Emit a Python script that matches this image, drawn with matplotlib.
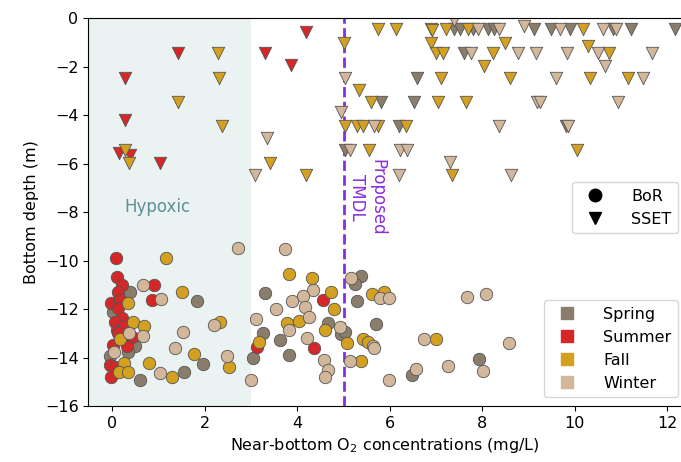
import numpy as np
import matplotlib
matplotlib.use('Agg')
import matplotlib.pyplot as plt
from matplotlib.lines import Line2D

# Season colours
seasons = ["Spring", "Summer", "Fall", "Winter"]
season_colors = {"Spring": "#8b7d6b", "Summer": "#d62728", "Fall": "#d4a020", "Winter": "#d2b79a"}

# SSET (triangles): near-bottom O2 (mg/L) and bottom depth (m)
sset_spring_o2 = [6.89, 7.38, 7.51, 7.80, 8.13, 8.26, 9.11, 9.48, 9.90, 10.83, 11.22, 12.18,
                  7.61, 6.58, 5.81, 6.53, 6.19, 9.82, 5.03]
sset_spring_depth = [-0.45, -0.45, -0.45, -0.45, -0.45, -0.45, -0.45, -0.45, -0.45, -0.45, -0.45, -0.45,
                     -1.45, -2.45, -3.45, -3.45, -4.45, -4.45, -5.45]

sset_summer_o2 = [4.19, 1.42, 3.31, 3.86, 0.28, 0.27, 0.15, 0.38, 1.03]
sset_summer_depth = [-0.55, -1.45, -1.45, -1.93, -2.45, -4.2, -5.55, -5.65, -5.96]

sset_fall_o2 = [5.02, 2.28, 2.31, 1.42, 2.38, 5.03, 0.27, 0.37, 3.41, 4.19,
                5.75, 6.14, 6.91, 7.22, 7.69, 10.18,
                6.89, 8.50, 10.29,
                7.00, 7.16, 8.24, 10.74, 8.04,
                7.11, 8.60, 10.34, 11.15, 5.34,
                5.60, 7.04, 7.65,
                5.29, 5.42, 5.74, 6.35,
                5.55, 10.05, 7.35]
sset_fall_depth = [-1.0, -1.45, -2.45, -3.45, -4.45, -4.45, -5.45, -5.96, -5.96, -6.45,
                   -0.45, -0.45, -0.5, -0.45, -0.45, -0.45,
                   -1.0, -1.0, -1.15,
                   -1.45, -1.45, -1.45, -1.45, -1.95,
                   -2.45, -2.45, -2.45, -2.45, -2.95,
                   -3.45, -3.45, -3.45,
                   -4.45, -4.45, -4.45, -4.45,
                   -5.45, -5.45, -6.45]

sset_winter_o2 = [5.04, 4.94, 3.34, 3.08, 5.14,
                  7.40, 7.90, 8.36, 8.91, 9.69, 10.61, 10.90,
                  7.76, 8.78, 9.16, 9.84, 10.50, 11.68, 10.66,
                  9.60, 11.47, 9.18, 9.24, 10.94,
                  5.67, 8.37, 9.86,
                  6.22, 6.37, 7.30, 6.21, 8.63]
sset_winter_depth = [-2.45, -3.88, -4.93, -6.45, -5.45,
                     -0.07, -0.45, -0.45, -0.33, -0.45, -0.45, -0.45,
                     -1.45, -1.45, -1.45, -1.45, -1.45, -1.45, -1.95,
                     -2.45, -2.45, -3.45, -3.45, -3.45,
                     -4.45, -4.45, -4.45,
                     -5.45, -5.45, -5.95, -6.45, -6.45]

# BoR (circles)
bor_spring_o2 = [0.38, 0.02, 0.49, 0.34, -0.05, 0.60, 1.84, 1.97, 1.55, 3.30, 3.26, 3.63, 3.05,
                 3.83, 4.66, 4.95, 5.03, 5.37, 5.25, 5.30, 5.70, 6.48, 7.93]
bor_spring_depth = [-11.28, -12.1, -13.52, -13.76, -13.94, -14.93, -11.65, -14.28, -14.58, -11.32,
                    -12.98, -13.28, -14.01, -13.9, -12.59, -13.03, -12.93, -10.62, -10.98, -11.67,
                    -12.62, -14.72, -14.07]

bor_summer_o2 = [0.08, 0.09, 0.20, 0.90, 0.13, 0.85, -0.02, 0.16, 0.13, 0.20, 0.05, 0.09, 0.42,
                 0.31, 0.02, -0.05, 0.05, -0.02, 4.56, 3.13, 4.37, 0.25, 0.12]
bor_summer_depth = [-9.9, -10.66, -11.0, -11.0, -11.28, -11.63, -11.76, -11.63, -11.97, -12.38,
                    -12.52, -12.86, -13.14, -13.52, -13.48, -14.31, -14.38, -14.79, -11.63, -13.55,
                    -13.62, -12.7, -13.0]

bor_fall_o2 = [1.17, 1.50, 3.83, 4.32, 4.74, 4.79, 3.78, 4.04, 4.61, 3.18, 0.33, 0.45, 0.69, 0.16,
               0.26, 0.14, 0.34, 0.79, 1.28, 1.77, 2.33, 2.52, 5.62, 5.88, 5.08, 5.42, 5.54, 7.00,
               5.38]
bor_fall_depth = [-9.9, -11.28, -10.55, -10.71, -11.28, -12.0, -12.56, -12.48, -12.86, -13.35,
                  -11.76, -12.52, -12.7, -13.25, -14.21, -14.58, -14.58, -14.21, -14.79, -13.85,
                  -12.55, -14.38, -11.38, -11.31, -13.41, -13.24, -13.37, -13.25, -14.13]

bor_winter_o2 = [0.67, 1.05, 0.36, 0.67, 0.04, 1.35, 1.03, 1.53, 2.20, 2.47, 2.72, 3.73, 4.35,
                 4.13, 3.88, 4.17, 3.55, 4.26, 3.11, 3.81, 4.92, 4.22, 4.58, 4.67, 4.60, 3.00,
                 5.16, 5.79, 5.98, 7.67, 8.08, 5.63, 5.67, 6.75, 8.57, 5.14, 5.99, 6.56, 7.27, 8.01]
bor_winter_depth = [-11.0, -11.6, -12.97, -13.11, -13.76, -13.62, -14.65, -12.93, -12.66, -13.94,
                    -9.49, -9.53, -11.21, -11.46, -11.67, -11.9, -12.01, -12.32, -12.42, -12.86,
                    -12.73, -13.21, -14.1, -14.52, -14.79, -14.93, -10.71, -11.56, -11.53, -11.49,
                    -11.39, -13.52, -13.62, -13.25, -13.39, -14.14, -14.93, -14.49, -14.35, -14.54]

sset = {"Spring": (sset_spring_o2, sset_spring_depth), "Summer": (sset_summer_o2, sset_summer_depth),
        "Fall": (sset_fall_o2, sset_fall_depth), "Winter": (sset_winter_o2, sset_winter_depth)}
bor = {"Spring": (bor_spring_o2, bor_spring_depth), "Summer": (bor_summer_o2, bor_summer_depth),
       "Fall": (bor_fall_o2, bor_fall_depth), "Winter": (bor_winter_o2, bor_winter_depth)}

hypoxic_limit = 3.0
tmdl = 5.0
xlims = (-0.52, 12.3)

fig = plt.figure(figsize=(6.81, 4.62), dpi=100)
ax = fig.add_axes([0.1297, 0.1212, 0.8703, 0.8392])

# Hypoxic zone shading and TMDL line
ax.axvspan(xlims[0], hypoxic_limit, color="#ebf2f2", zorder=0, lw=0)
ax.axvline(tmdl, color="#8a2be2", ls="--", lw=2, zorder=1)

for s in seasons:
    x, y = sset[s]
    ax.scatter(x, y, marker="v", s=80, c=season_colors[s], edgecolors="#555555", linewidths=0.6, zorder=2)
for s in seasons:
    x, y = bor[s]
    ax.scatter(x, y, marker="o", s=80, c=season_colors[s], edgecolors="#555555", linewidths=0.6, zorder=2)

ax.text(0.97, -7.8, "Hypoxic", color="#5f9098", fontsize=12, ha="center", va="center")
ax.text(5.51, -7.4, "Proposed\nTMDL", color="#8a2be2", fontsize=12, rotation=270,
        ha="center", va="center", multialignment="center")

ax.set_xlim(*xlims)
ax.set_ylim(-16, 0)
ax.set_xticks(np.arange(0, 13, 2))
ax.set_yticks(np.arange(-16, 1, 2))
ax.tick_params(labelsize=11.5)
ax.set_xlabel("Near-bottom O$_2$ concentrations (mg/L)", fontsize=11.5)
ax.set_ylabel("Bottom depth (m)", fontsize=11.5)
ax.spines["right"].set_visible(False)

# Legends: sampling type and season
type_handles = [Line2D([], [], ls="", marker="o", color="k", markersize=9, label="BoR"),
                Line2D([], [], ls="", marker="v", color="k", markersize=9, label="SSET")]
leg1 = ax.legend(handles=type_handles, loc="upper right", bbox_to_anchor=(0.995, 0.577),
                 borderaxespad=0, fontsize=11.5, handletextpad=1.3)
ax.add_artist(leg1)
season_handles = [Line2D([], [], ls="", marker="s", color=season_colors[s], markersize=9, label=s)
                  for s in seasons]
ax.legend(handles=season_handles, loc="lower right", bbox_to_anchor=(0.995, 0.023),
          borderaxespad=0, fontsize=11.5, handletextpad=1.3)

plt.savefig("out.png", dpi=100)
plt.close()
